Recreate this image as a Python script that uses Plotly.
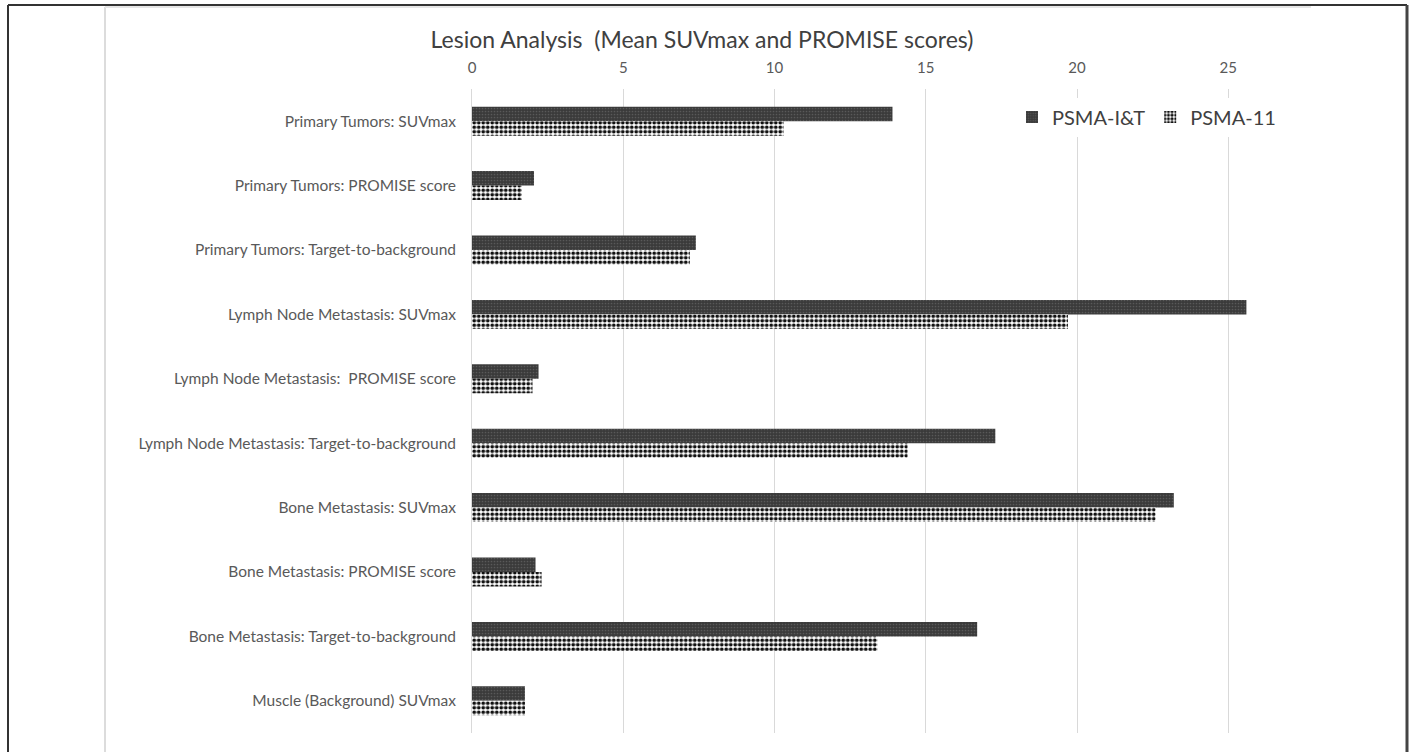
import plotly.graph_objects as go

# Lesion categories, listed top to bottom
categories = [
    "Primary Tumors: SUVmax",
    "Primary Tumors: PROMISE score",
    "Primary Tumors: Target-to-background",
    "Lymph Node Metastasis: SUVmax",
    "Lymph Node Metastasis:  PROMISE score",
    "Lymph Node Metastasis: Target-to-background",
    "Bone Metastasis: SUVmax",
    "Bone Metastasis: PROMISE score",
    "Bone Metastasis: Target-to-background",
    "Muscle (Background) SUVmax",
]

psma_it = [13.9, 2.05, 7.4, 25.6, 2.2, 17.3, 23.2, 2.1, 16.7, 1.75]
psma_11 = [10.3, 1.65, 7.2, 19.7, 2.0, 14.4, 22.6, 2.3, 13.4, 1.75]

x_ticks = [0, 5, 10, 15, 20, 25]

W, H = 1412, 752
ML, MR, MT, MB = 472, 93, 89, 19
FONT = "Lato, Open Sans, sans-serif"


def px(x):
    return (x - ML) / (W - ML - MR)


def py(y):
    return 1 - (y - MT) / (H - MT - MB)


fig = go.Figure()
fig.add_trace(go.Bar(
    y=categories, x=psma_it, orientation="h", name="PSMA-I&T",
    marker=dict(color="#3c3c3c", line=dict(width=0),
                pattern=dict(shape=".", fgcolor="#777777", bgcolor="#3a3a3a",
                             size=3, solidity=0.25, fillmode="overlay")),
))
fig.add_trace(go.Bar(
    y=categories, x=psma_11, orientation="h", name="PSMA-11",
    marker=dict(color="white", line=dict(width=0),
                pattern=dict(shape=".", fgcolor="#111111", bgcolor="white",
                             size=4.5, solidity=0.55, fillmode="replace")),
))

grey = "#595959"
fig.update_layout(
    width=W, height=H,
    margin=dict(l=ML, r=MR, t=MT, b=MB),
    paper_bgcolor="white", plot_bgcolor="white",
    barmode="group", bargap=0.55, bargroupgap=0,
    font=dict(family=FONT, color=grey, size=15),
    title=dict(text="Lesion Analysis  (Mean SUVmax and PROMISE scores)",
               x=702 / W, xanchor="center", y=1 - 40 / H, yanchor="middle",
               font=dict(family=FONT, size=23, color="#404040")),
    xaxis=dict(side="top", range=[0, 28], tickvals=x_ticks,
               showgrid=True, gridcolor="#d9d9d9", gridwidth=1,
               zeroline=False, showline=False, ticks="",
               ticklabelstandoff=12,
               tickfont=dict(family=FONT, size=15, color=grey)),
    yaxis=dict(autorange="reversed", showgrid=False, zeroline=False,
               showline=True, linecolor="#d9d9d9", linewidth=1, ticks="",
               ticksuffix="   ", tickfont=dict(family=FONT, size=15.5, color=grey)),
    legend=dict(orientation="h", x=px(1012), xanchor="left",
                y=py(117), yanchor="middle", bgcolor="white",
                font=dict(family=FONT, size=20, color="#404040"),
                itemwidth=30, tracegroupgap=0),
    showlegend=True,
)

# Outer frame and the faint inner edge lines
fig.add_shape(type="line", xref="paper", yref="paper",
              x0=px(8), x1=px(8), y0=py(5), y1=py(760),
              line=dict(color="#333333", width=2))
fig.add_shape(type="line", xref="paper", yref="paper",
              x0=px(8), x1=px(1407), y0=py(5), y1=py(5),
              line=dict(color="#333333", width=2))
fig.add_shape(type="line", xref="paper", yref="paper",
              x0=px(1407), x1=px(1407), y0=py(5), y1=py(760),
              line=dict(color="#444444", width=3))
fig.add_shape(type="line", xref="paper", yref="paper",
              x0=px(105), x1=px(105), y0=py(7), y1=py(760),
              line=dict(color="#dcdcdc", width=2))
fig.add_shape(type="line", xref="paper", yref="paper",
              x0=px(105), x1=px(1311), y0=py(7), y1=py(7),
              line=dict(color="#e6e6e6", width=2))

fig.write_html("out.html")
